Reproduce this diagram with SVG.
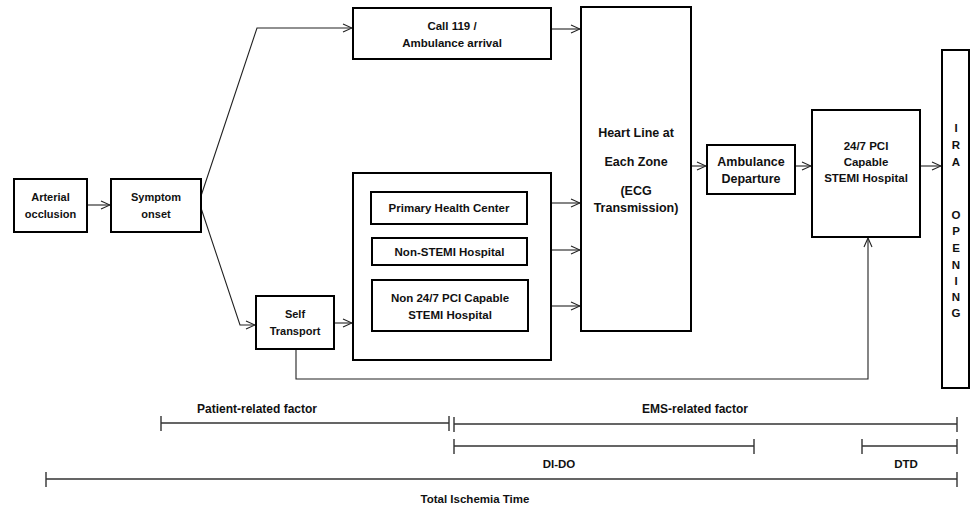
<svg xmlns="http://www.w3.org/2000/svg" width="976" height="509" viewBox="0 0 976 509">
<defs>
<style>
.box{fill:#fff;stroke:#000;stroke-width:2}
.t{font-family:"Liberation Sans",Arial,sans-serif;font-weight:bold;font-size:11.5px;fill:#111;text-anchor:middle}
.s{font-size:11px}
.b{font-size:12.5px}
.c{fill:none;stroke:#222;stroke-width:1.1}
.tl{fill:none;stroke:#333;stroke-width:1.4}
.lt{font-family:"Liberation Sans",Arial,sans-serif;font-weight:bold;font-size:11.5px;fill:#111;text-anchor:middle}
</style>
<marker id="ar" viewBox="0 0 10 10" refX="10" refY="5" markerWidth="10" markerHeight="10" markerUnits="userSpaceOnUse" orient="auto">
<path d="M1,1 L10,5 L1,9" fill="none" stroke="#222" stroke-width="1.1"/>
</marker>
</defs>
<rect width="976" height="509" fill="#fff"/>
<g id="connectors">
<line class="c" x1="87" y1="205" x2="110" y2="205" marker-end="url(#ar)"/>
<polyline class="c" points="201,196 257,28 352,28" marker-end="url(#ar)"/>
<polyline class="c" points="201,208 240,325 255,325" marker-end="url(#ar)"/>
<line class="c" x1="551" y1="29" x2="580" y2="29" marker-end="url(#ar)"/>
<line class="c" x1="334" y1="323" x2="352" y2="323" marker-end="url(#ar)"/>
<line class="c" x1="551" y1="203" x2="580" y2="203" marker-end="url(#ar)"/>
<line class="c" x1="551" y1="250" x2="580" y2="250" marker-end="url(#ar)"/>
<line class="c" x1="551" y1="306" x2="580" y2="306" marker-end="url(#ar)"/>
<line class="c" x1="691" y1="166" x2="706" y2="166" marker-end="url(#ar)"/>
<line class="c" x1="795" y1="166" x2="811" y2="166" marker-end="url(#ar)"/>
<line class="c" x1="920" y1="166" x2="941" y2="166" marker-end="url(#ar)"/>
<polyline class="c" points="296,349 296,379 868,379 868,238" marker-end="url(#ar)"/>
</g>
<g id="arterial">
<rect class="box" x="14" y="179" width="73" height="53"/>
<text class="t s" x="50.5" y="201">Arterial</text>
<text class="t s" x="50.5" y="218">occlusion</text>
</g>
<g id="symptom">
<rect class="box" x="111" y="179" width="90" height="53"/>
<text class="t s" x="156" y="201">Symptom</text>
<text class="t s" x="156" y="218">onset</text>
</g>
<g id="call119">
<rect class="box" x="353" y="8" width="198" height="51"/>
<text class="t" x="452" y="30">Call 119 /</text>
<text class="t" x="452" y="47">Ambulance arrival</text>
</g>
<g id="selftransport">
<rect class="box" x="256" y="296" width="78" height="53"/>
<text class="t s" x="295" y="318">Self</text>
<text class="t s" x="295" y="335">Transport</text>
</g>
<g id="facilities">
<rect class="box" x="353" y="173" width="198" height="187"/>
</g>
<g id="phc">
<rect class="box" x="371" y="192" width="156" height="32"/>
<text class="t" x="449" y="212">Primary Health Center</text>
</g>
<g id="nonstemi">
<rect class="box" x="372" y="238" width="155" height="27"/>
<text class="t" x="449.5" y="256">Non-STEMI Hospital</text>
</g>
<g id="non247">
<rect class="box" x="372" y="280" width="156" height="51"/>
<text class="t" x="450" y="302">Non 24/7 PCI Capable</text>
<text class="t" x="450" y="319">STEMI Hospital</text>
</g>
<g id="heartline">
<rect class="box" x="581" y="7" width="110" height="324"/>
<text class="t b" x="636" y="137">Heart Line at</text>
<text class="t b" x="636" y="166">Each Zone</text>
<text class="t b" x="636" y="195">(ECG</text>
<text class="t b" x="636" y="212">Transmission)</text>
</g>
<g id="ambdeparture">
<rect class="box" x="707" y="145" width="88" height="49"/>
<text class="t b" x="751" y="166">Ambulance</text>
<text class="t b" x="751" y="183">Departure</text>
</g>
<g id="pci247">
<rect class="box" x="812" y="110" width="108" height="127"/>
<text class="t" x="866" y="150">24/7 PCI</text>
<text class="t" x="866" y="166">Capable</text>
<text class="t" x="866" y="182">STEMI Hospital</text>
</g>
<g id="ira">
<rect class="box" x="942" y="50" width="27" height="338"/>
<text class="t" x="956" y="132">I</text>
<text class="t" x="956" y="149">R</text>
<text class="t" x="956" y="166">A</text>
<text class="t" x="956" y="219">O</text>
<text class="t" x="956" y="235">P</text>
<text class="t" x="956" y="252">E</text>
<text class="t" x="956" y="269">N</text>
<text class="t" x="956" y="285">I</text>
<text class="t" x="956" y="301">N</text>
<text class="t" x="956" y="317">G</text>
</g>
<g id="timeline">
<path class="tl" d="M161,416V431M161,423H449M449,416V431"/>
<path class="tl" d="M454,417V432M454,424H957M957,417V432"/>
<path class="tl" d="M454,439V454M454,446H754M754,439V454"/>
<path class="tl" d="M862,439V454M862,446H957M957,439V454"/>
<path class="tl" d="M46,472V487M46,479H957M957,472V487"/>
<text class="lt" x="257" y="413" style="font-size:12px">Patient-related factor</text>
<text class="lt" x="695" y="413" style="font-size:12px">EMS-related factor</text>
<text class="lt" x="559" y="468">DI-DO</text>
<text class="lt" x="906" y="468">DTD</text>
<text class="lt" x="475" y="503">Total Ischemia Time</text>
</g>
</svg>
